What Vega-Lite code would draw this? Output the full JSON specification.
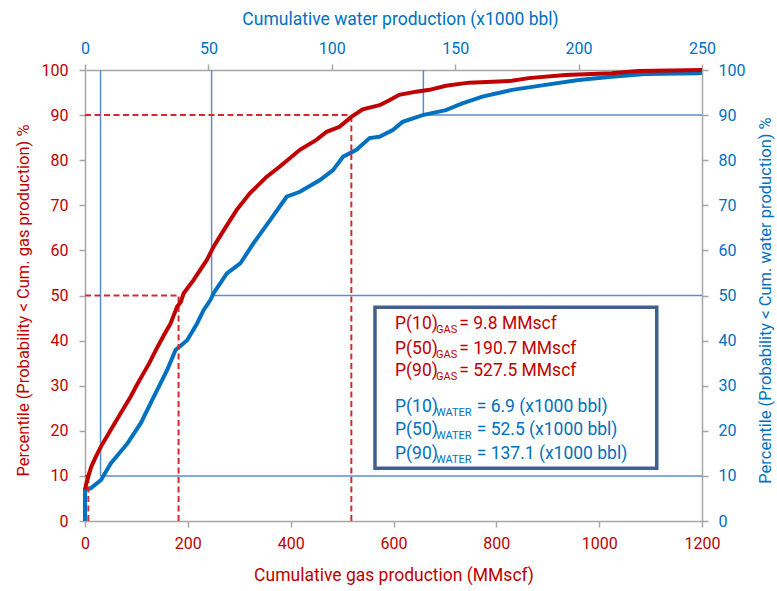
{
  "$schema": "https://vega.github.io/schema/vega-lite/v6.json",
  "width": 617,
  "height": 451,
  "autosize": {"type": "none"},
  "padding": {"left": 85, "top": 70, "right": 75, "bottom": 70},
  "background": "white",
  "config": {
    "view": {"stroke": null},
    "axis": {
      "domainColor": "#A6A6A6",
      "domainWidth": 1.5,
      "tickColor": "#A6A6A6",
      "tickWidth": 1.5,
      "tickSize": 6,
      "grid": false,
      "labelFlush": false,
      "labelOverlap": false,
      "labelFont": "Roboto",
      "labelFontSize": 16,
      "titleFont": "Roboto",
      "titleFontWeight": "normal"
    }
  },
  "datasets": {
    "gasCurve": [
      {"x": 0, "y": 7}, {"x": 3, "y": 8.5}, {"x": 8, "y": 10.5}, {"x": 12, "y": 12}, {"x": 20, "y": 14},
      {"x": 31, "y": 16.5}, {"x": 50, "y": 20.2}, {"x": 70, "y": 24}, {"x": 89, "y": 27.6}, {"x": 100, "y": 30},
      {"x": 112, "y": 32.4}, {"x": 125, "y": 35}, {"x": 141, "y": 38.6}, {"x": 155, "y": 41.5}, {"x": 166, "y": 43.7},
      {"x": 179, "y": 47.5}, {"x": 186, "y": 48.5}, {"x": 192, "y": 50.5}, {"x": 211, "y": 53.4}, {"x": 237, "y": 57.9},
      {"x": 250, "y": 60.8}, {"x": 270, "y": 64.5}, {"x": 295, "y": 69}, {"x": 321, "y": 72.7}, {"x": 353, "y": 76.3},
      {"x": 379, "y": 78.6}, {"x": 418, "y": 82.3}, {"x": 450, "y": 84.5}, {"x": 470, "y": 86.3}, {"x": 495, "y": 87.4},
      {"x": 518, "y": 89.6}, {"x": 540, "y": 91.3}, {"x": 573, "y": 92.2}, {"x": 592, "y": 93.3}, {"x": 611, "y": 94.5},
      {"x": 644, "y": 95.2}, {"x": 670, "y": 95.6}, {"x": 702, "y": 96.5}, {"x": 747, "y": 97.2}, {"x": 830, "y": 97.6},
      {"x": 863, "y": 98.2}, {"x": 934, "y": 98.9}, {"x": 1024, "y": 99.3}, {"x": 1076, "y": 99.8}, {"x": 1200, "y": 100}
    ],
    "waterCurve": [
      {"x": 0, "y": 0}, {"x": 0, "y": 6.9}, {"x": 2.4, "y": 7.3}, {"x": 6.5, "y": 9.1}, {"x": 10.5, "y": 12.8},
      {"x": 17.2, "y": 17.2}, {"x": 22.6, "y": 21.7}, {"x": 27.9, "y": 27.6}, {"x": 33.3, "y": 33.5}, {"x": 36.7, "y": 37.9},
      {"x": 41.4, "y": 40.1}, {"x": 45.4, "y": 43.8}, {"x": 48.1, "y": 46.8}, {"x": 50.8, "y": 49}, {"x": 52.1, "y": 50.5},
      {"x": 57.5, "y": 54.9}, {"x": 62.9, "y": 57.1}, {"x": 68.3, "y": 61.6}, {"x": 75, "y": 66.7}, {"x": 81.7, "y": 71.9},
      {"x": 87.1, "y": 73}, {"x": 95.2, "y": 75.6}, {"x": 100.5, "y": 77.8}, {"x": 104.6, "y": 80.8}, {"x": 110, "y": 82.3},
      {"x": 115.3, "y": 84.9}, {"x": 119.3, "y": 85.2}, {"x": 124.7, "y": 86.7}, {"x": 128.7, "y": 88.5}, {"x": 136.8, "y": 90},
      {"x": 146.2, "y": 91.1}, {"x": 152.9, "y": 92.6}, {"x": 161, "y": 94.1}, {"x": 173.1, "y": 95.6}, {"x": 186.6, "y": 96.7},
      {"x": 200, "y": 97.8}, {"x": 213.4, "y": 98.5}, {"x": 226.9, "y": 99.1}, {"x": 248.4, "y": 99.3}, {"x": 250, "y": 99.4}
    ],
    "gasRefs": [
      {"x": 0, "x2": 182, "y": 50, "y2": 50},
      {"x": 182, "x2": 182, "y": 0, "y2": 50},
      {"x": 0, "x2": 518, "y": 90, "y2": 90},
      {"x": 518, "x2": 518, "y": 0, "y2": 90},
      {"x": 6.5, "x2": 6.5, "y": 0, "y2": 10},
      {"x": 0, "x2": 6.5, "y": 10, "y2": 10}
    ],
    "waterRefs": [
      {"x": 6.3, "x2": 6.3, "y": 10, "y2": 100},
      {"x": 6.3, "x2": 250, "y": 10, "y2": 10},
      {"x": 51.3, "x2": 51.3, "y": 50, "y2": 100},
      {"x": 51.3, "x2": 250, "y": 50, "y2": 50},
      {"x": 137.1, "x2": 137.1, "y": 90, "y2": 100},
      {"x": 137.1, "x2": 250, "y": 90, "y2": 90}
    ],
    "box": [{"x": 564, "x2": 1112, "y": 47.4, "y2": 11.7}],
    "labels": [
      {"x": 603, "y": 42.5, "t": "P(10)", "part": "main", "c": "gas"},
      {"x": 682.6, "y": 42.5, "t": "GAS", "part": "sub", "c": "gas"},
      {"x": 728, "y": 42.5, "t": "= 9.8 MMscf", "part": "main", "c": "gas"},
      {"x": 603, "y": 37.1, "t": "P(50)", "part": "main", "c": "gas"},
      {"x": 682.6, "y": 37.1, "t": "GAS", "part": "sub", "c": "gas"},
      {"x": 728, "y": 37.1, "t": "= 190.7 MMscf", "part": "main", "c": "gas"},
      {"x": 603, "y": 32.1, "t": "P(90)", "part": "main", "c": "gas"},
      {"x": 682.6, "y": 32.1, "t": "GAS", "part": "sub", "c": "gas"},
      {"x": 728, "y": 32.1, "t": "= 527.5 MMscf", "part": "main", "c": "gas"},
      {"x": 603, "y": 24.2, "t": "P(10)", "part": "main", "c": "water"},
      {"x": 682.6, "y": 24.2, "t": "WATER", "part": "sub", "c": "water"},
      {"x": 761.8, "y": 24.2, "t": "= 6.9 (x1000 bbl)", "part": "main", "c": "water"},
      {"x": 603, "y": 19.0, "t": "P(50)", "part": "main", "c": "water"},
      {"x": 682.6, "y": 19.0, "t": "WATER", "part": "sub", "c": "water"},
      {"x": 761.8, "y": 19.0, "t": "= 52.5 (x1000 bbl)", "part": "main", "c": "water"},
      {"x": 603, "y": 13.8, "t": "P(90)", "part": "main", "c": "water"},
      {"x": 682.6, "y": 13.8, "t": "WATER", "part": "sub", "c": "water"},
      {"x": 761.8, "y": 13.8, "t": "= 137.1 (x1000 bbl)", "part": "main", "c": "water"}
    ]
  },
  "layer": [
    {
      "data": {"name": "waterRefs"},
      "mark": {"type": "rule", "color": "#5B8BD0", "strokeWidth": 1.5},
      "encoding": {
        "x": {"field": "x", "type": "quantitative", "scale": {"domain": [0, 250], "nice": false},
          "axis": {"orient": "top", "values": [0, 50, 100, 150, 200, 250], "format": "d", "title": "Cumulative water production (x1000 bbl)",
            "titleFontSize": 17.5, "titleColor": "#0070C0", "labelColor": "#0070C0",
            "labelPadding": 8, "titleX": 315, "titleY": -46, "titleBaseline": "alphabetic", "titleAlign": "center"}},
        "x2": {"field": "x2"},
        "y": {"field": "y", "type": "quantitative", "scale": {"domain": [0, 100], "nice": false},
          "axis": {"orient": "right", "values": [0, 10, 20, 30, 40, 50, 60, 70, 80, 90, 100],
            "title": "Percentile (Probability < Cum. water production) %", "titleColor": "#0070C0", "labelColor": "#0070C0",
            "titleFontSize": 16.5, "titleX": 63, "titleY": 230, "titleAngle": -90, "titleBaseline": "middle", "titleAlign": "center",
            "labelPadding": 10}},
        "y2": {"field": "y2"}
      }
    },
    {
      "data": {"name": "waterCurve"},
      "mark": {"type": "line", "color": "#0070C0", "strokeWidth": 4},
      "encoding": {
        "x": {"field": "x", "type": "quantitative", "scale": {"domain": [0, 250], "nice": false}, "axis": null},
        "y": {"field": "y", "type": "quantitative", "scale": {"domain": [0, 100], "nice": false}, "axis": null},
        "order": {"field": "y", "type": "quantitative"}
      }
    },
    {
      "data": {"name": "gasRefs"},
      "mark": {"type": "rule", "color": "#D42A2A", "strokeWidth": 2, "strokeDash": [6, 3.5]},
      "encoding": {
        "x": {"field": "x", "type": "quantitative", "scale": {"domain": [0, 1200], "nice": false},
          "axis": {"orient": "bottom", "values": [0, 200, 400, 600, 800, 1000, 1200], "format": "d", "title": "Cumulative gas production (MMscf)",
            "titleFontSize": 17.5, "titleColor": "#C00000", "labelColor": "#C00000",
            "labelPadding": 8, "titleX": 308.5, "titleY": 59, "titleBaseline": "alphabetic", "titleAlign": "center"}},
        "x2": {"field": "x2"},
        "y": {"field": "y", "type": "quantitative", "scale": {"domain": [0, 100], "nice": false},
          "axis": {"orient": "left", "values": [0, 10, 20, 30, 40, 50, 60, 70, 80, 90, 100],
            "title": "Percentile (Probability < Cum. gas production) %", "titleColor": "#C00000", "labelColor": "#C00000",
            "titleFontSize": 16.5, "titleX": -62, "titleY": 230, "titleAngle": -90, "titleBaseline": "middle", "titleAlign": "center",
            "labelPadding": 11}},
        "y2": {"field": "y2"}
      }
    },
    {
      "data": {"name": "gasCurve"},
      "mark": {"type": "line", "color": "#C00000", "strokeWidth": 4},
      "encoding": {
        "x": {"field": "x", "type": "quantitative", "scale": {"domain": [0, 1200], "nice": false}, "axis": null},
        "y": {"field": "y", "type": "quantitative", "scale": {"domain": [0, 100], "nice": false}, "axis": null},
        "order": {"field": "y", "type": "quantitative"}
      }
    },
    {
      "data": {"name": "box"},
      "mark": {"type": "rect", "fill": "white", "stroke": "#41618C", "strokeWidth": 3.5},
      "encoding": {
        "x": {"field": "x", "type": "quantitative", "scale": {"domain": [0, 1200], "nice": false}, "axis": null},
        "x2": {"field": "x2"},
        "y": {"field": "y", "type": "quantitative", "scale": {"domain": [0, 100], "nice": false}, "axis": null},
        "y2": {"field": "y2"}
      }
    },
    {
      "data": {"name": "labels"},
      "transform": [{"filter": "datum.part == 'main'"}],
      "mark": {"type": "text", "font": "Roboto", "fontSize": 17.5, "align": "left", "baseline": "alphabetic"},
      "encoding": {
        "x": {"field": "x", "type": "quantitative", "scale": {"domain": [0, 1200], "nice": false}, "axis": null},
        "y": {"field": "y", "type": "quantitative", "scale": {"domain": [0, 100], "nice": false}, "axis": null},
        "text": {"field": "t"},
        "color": {"field": "c", "type": "nominal", "scale": {"domain": ["gas", "water"], "range": ["#C00000", "#0070C0"]}, "legend": null}
      }
    },
    {
      "data": {"name": "labels"},
      "transform": [{"filter": "datum.part == 'sub'"}],
      "mark": {"type": "text", "font": "Roboto", "fontSize": 11, "align": "left", "baseline": "alphabetic", "dy": 4},
      "encoding": {
        "x": {"field": "x", "type": "quantitative", "scale": {"domain": [0, 1200], "nice": false}, "axis": null},
        "y": {"field": "y", "type": "quantitative", "scale": {"domain": [0, 100], "nice": false}, "axis": null},
        "text": {"field": "t"},
        "color": {"field": "c", "type": "nominal", "scale": {"domain": ["gas", "water"], "range": ["#C00000", "#0070C0"]}, "legend": null}
      }
    }
  ],
  "resolve": {"scale": {"x": "independent", "y": "independent", "color": "shared"}}
}
